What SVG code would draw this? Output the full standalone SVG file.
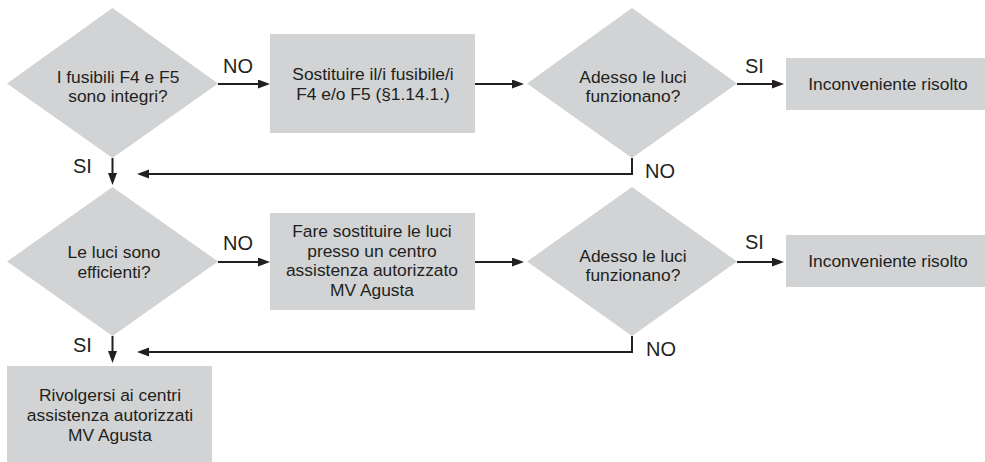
<svg xmlns="http://www.w3.org/2000/svg" width="985" height="462" viewBox="0 0 985 462">
<style>
.shape{fill:#d1d3d4;stroke:none}
.t{font-family:"Liberation Sans",Arial,sans-serif;font-size:17.4px;fill:#231f20;text-anchor:middle}
.lbl{font-family:"Liberation Sans",Arial,sans-serif;font-size:20px;fill:#231f20}
.conn{fill:none;stroke:#231f20;stroke-width:2}
</style>
<defs>
<marker id="arr" markerUnits="userSpaceOnUse" markerWidth="12" markerHeight="10" refX="6" refY="4.5" orient="auto">
<path d="M0,0 L12,4.5 L0,9 z" fill="#231f20"/>
</marker>
</defs>
<rect width="985" height="462" fill="#ffffff"/>

<g id="d1">
<polygon class="shape" points="112.5,8 218,83.5 112.5,158 7,83.5"/>
<text class="t" x="118" y="83">I fusibili F4 e F5</text>
<text class="t" x="118" y="102">sono integri?</text>
</g>
<g id="r1">
<rect class="shape" x="270" y="34" width="205" height="99"/>
<text class="t" x="373" y="80">Sostituire il/i fusibile/i</text>
<text class="t" x="373" y="100">F4 e/o F5 (§1.14.1.)</text>
</g>
<g id="d2">
<polygon class="shape" points="632,8 737,83.5 632,158 527,83.5"/>
<text class="t" x="633" y="83">Adesso le luci</text>
<text class="t" x="633" y="102">funzionano?</text>
</g>
<g id="r2">
<rect class="shape" x="786" y="58" width="199" height="52"/>
<text class="t" x="888" y="90">Inconveniente risolto</text>
</g>
<g id="d3">
<polygon class="shape" points="112.5,187 218,261.5 112.5,336 7,261.5"/>
<text class="t" x="114" y="258">Le luci sono</text>
<text class="t" x="114" y="278">efficienti?</text>
</g>
<g id="r3">
<rect class="shape" x="270" y="213" width="205" height="97"/>
<text class="t" x="372" y="237">Fare sostituire le luci</text>
<text class="t" x="372" y="256.5">presso un centro</text>
<text class="t" x="372" y="276">assistenza autorizzato</text>
<text class="t" x="372" y="296">MV Agusta</text>
</g>
<g id="d4">
<polygon class="shape" points="632,187 737,261.5 632,336 527,261.5"/>
<text class="t" x="633" y="261.5">Adesso le luci</text>
<text class="t" x="633" y="281">funzionano?</text>
</g>
<g id="r4">
<rect class="shape" x="786" y="235" width="199" height="52"/>
<text class="t" x="888" y="267">Inconveniente risolto</text>
</g>
<g id="r5">
<rect class="shape" x="7" y="366" width="205" height="96"/>
<text class="t" x="110" y="401">Rivolgersi ai centri</text>
<text class="t" x="110" y="421">assistenza autorizzati</text>
<text class="t" x="110" y="441">MV Agusta</text>
</g>

<g id="connectors">
<path class="conn" d="M218,84 H264" marker-end="url(#arr)"/>
<path class="conn" d="M475,84 H518" marker-end="url(#arr)"/>
<path class="conn" d="M737,84 H778" marker-end="url(#arr)"/>
<path class="conn" d="M632,158 V174 H143" marker-end="url(#arr)"/>
<path class="conn" d="M112.5,158 V179" marker-end="url(#arr)"/>
<path class="conn" d="M218,262 H264" marker-end="url(#arr)"/>
<path class="conn" d="M475,262 H518" marker-end="url(#arr)"/>
<path class="conn" d="M737,262 H778" marker-end="url(#arr)"/>
<path class="conn" d="M632,336 V352 H143" marker-end="url(#arr)"/>
<path class="conn" d="M112.5,336 V357" marker-end="url(#arr)"/>
<text class="lbl" x="223" y="73">NO</text>
<text class="lbl" x="745" y="73">SI</text>
<text class="lbl" x="645" y="178">NO</text>
<text class="lbl" x="73" y="173">SI</text>
<text class="lbl" x="223" y="250">NO</text>
<text class="lbl" x="745" y="249">SI</text>
<text class="lbl" x="646" y="356">NO</text>
<text class="lbl" x="73" y="352">SI</text>
</g>
</svg>
